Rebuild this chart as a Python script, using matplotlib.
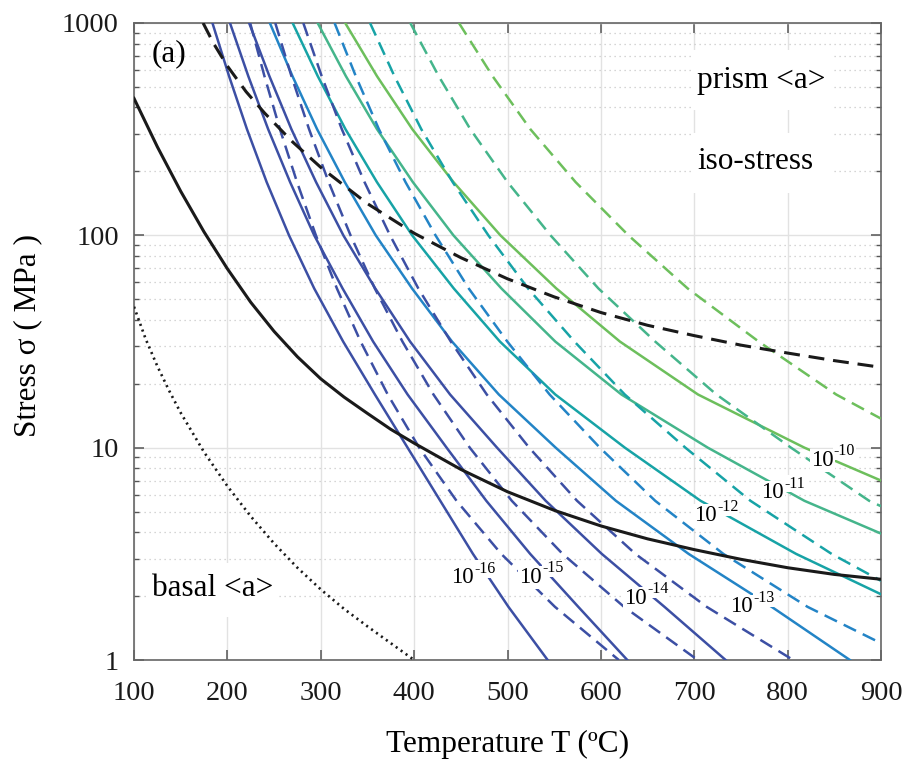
import matplotlib
matplotlib.use("Agg")
import matplotlib.pyplot as plt
from matplotlib.patches import Rectangle
from matplotlib.ticker import LogLocator, NullFormatter, FixedLocator, FixedFormatter

plt.rcParams['font.family'] = ['Liberation Serif', 'DejaVu Serif']

# ---- data -------------------------------------------------------------
# strain-rate exponents of the iso-strain-rate contours (s^-1)
rate_exponents = [-16, -15, -14, -13, -12, -11, -10]

# stress levels (MPa) at which the contour temperatures are tabulated
levels = [1000, 562, 316, 178, 100, 56.2, 31.6, 17.8, 10, 5.62, 3.16, 1.78, 1]

# solid contours: temperature (degC) at each stress level
solid_T = {
    -16: [184, 201.8, 221, 242.1, 266, 293, 324, 358, 393, 428, 463, 501, 543],
    -15: [202.8, 222.4, 243.7, 267.2, 293.0, 323.4, 356.1, 393.0, 434.8, 477.3, 524.3, 575.8, 628.3],
    -14: [223.3, 245.0, 268.6, 295.0, 324.2, 358.4, 395.7, 438.5, 488.8, 540.9, 601.0, 668.1, 733.6],
    -13: [245.5, 269.7, 296.1, 325.8, 358.9, 397.8, 440.6, 490.7, 551.6, 616.1, 694.0, 782.9, 866.7],
    -12: [269.9, 296.8, 326.5, 360.2, 397.9, 442.5, 491.9, 551.2, 625.7, 706.8, 809.1, 900],
    -11: [296.7, 326.9, 360.3, 398.7, 442.1, 493.5, 551.2, 622.0, 714.5, 818.0, 900],
    -10: [326.2, 360.2, 398.1, 442.2, 492.4, 552.3, 620.4, 704.0, 818.0, 900],
}
solid_S = {
    -16: levels,
    -15: levels,
    -14: levels,
    -13: levels,
    -12: [1000, 562, 316, 178, 100, 56.2, 31.6, 17.8, 10, 5.62, 3.16, 2.04],
    -11: [1000, 562, 316, 178, 100, 56.2, 31.6, 17.8, 10, 5.62, 3.94],
    -10: [1000, 562, 316, 178, 100, 56.2, 31.6, 17.8, 10, 7.0],
}

# dashed contours
dashed_T = {
    -16: [224.4, 239.7, 256.3, 274.6, 294.8, 317.3, 342.7, 371.7, 405.4, 445.4, 493.3, 550.8, 619.2],
    -15: [251.3, 268.6, 287.5, 308.5, 331.9, 357.9, 387.5, 420.7, 459.6, 504.6, 559.0, 624.8, 703.7],
    -14: [281.3, 301.0, 322.6, 346.9, 374.2, 404.5, 439.3, 477.8, 523.2, 574.5, 637.0, 713.3, 805.9],
    -13: [314.8, 337.5, 362.3, 390.8, 422.9, 458.5, 499.8, 545.1, 598.9, 658.2, 731.2, 821.3, 900],
    -12: [352.8, 378.9, 407.7, 441.3, 479.5, 522.0, 571.7, 625.6, 690.5, 760.2, 847.1, 900],
    -11: [395.9, 426.3, 460.2, 500.1, 546.1, 597.4, 658.2, 723.7, 803.6, 887.3, 900],
    -10: [448.0, 484.0, 524.5, 573.0, 629.5, 693.0, 769.0, 852.0, 900],
}
dashed_S = {
    -16: levels,
    -15: levels,
    -14: levels,
    -13: [1000, 562, 316, 178, 100, 56.2, 31.6, 17.8, 10, 5.62, 3.16, 1.78, 1.2],
    -12: [1000, 562, 316, 178, 100, 56.2, 31.6, 17.8, 10, 5.62, 3.16, 2.36],
    -11: [1000, 562, 316, 178, 100, 56.2, 31.6, 17.8, 10, 5.62, 5.3],
    -10: [1000, 562, 316, 178, 100, 56.2, 31.6, 17.8, 13.7],
}

# iso-stress curves
iso_solid_T = [100, 125, 150, 175, 200, 225, 250, 275, 300, 325, 350, 375, 400,
               450, 500, 550, 600, 650, 700, 750, 800, 850, 900]
iso_solid_S = [441.6, 261.2, 161.3, 103.8, 69.6, 48.4, 35.3, 26.8, 21.1, 17.3, 14.5, 12.2, 10.5,
               7.90, 6.20, 5.07, 4.28, 3.72, 3.31, 2.98, 2.72, 2.53, 2.40]

iso_dashed_T = [174, 185, 200, 220, 240, 270, 300, 350, 400, 450, 500, 550, 600,
                650, 700, 750, 800, 850, 900]
iso_dashed_S = [1000, 804, 627, 475, 376, 275, 209, 141, 102.3, 78.5, 62.4, 51.3, 43.3,
                37.7, 33.7, 30.4, 27.9, 25.7, 23.9]

basal_T = [100, 112.5, 125, 137.5, 150, 175, 200, 225, 250, 275, 300, 325, 350, 375, 400]
basal_S = [46.1, 32.5, 24.2, 18.6, 14.6, 9.53, 6.59, 4.75, 3.54, 2.72, 2.15, 1.74, 1.44, 1.20, 1.0]

rate_colors = {-16: '#3c4fa4', -15: '#3c4fa4', -14: '#3c4fa4', -13: '#2384c6',
               -12: '#17a3a6', -11: '#45b58b', -10: '#6dbf5c'}

# annotation anchor points (T, stress) for the strain-rate labels
label_pos = {-16: (464, 2.49), -15: (537, 2.51), -14: (649, 2.0), -13: (763, 1.82),
             -12: (724, 4.88), -11: (796, 6.3), -10: (849, 8.93)}

x_ticks = [100, 200, 300, 400, 500, 600, 700, 800, 900]
y_ticks = [1, 10, 100, 1000]
y_ticklabels = ['1', '10', '100', '1000']

# ---- figure -----------------------------------------------------------
fig = plt.figure(figsize=(9.09, 7.63), dpi=100)
ax = fig.add_axes([134 / 909, 1 - 660 / 763, 747 / 909, 637 / 763])
ax.set_yscale('log')

lw_c = 1.8
for e in rate_exponents:
    ax.plot(solid_T[e], solid_S[e], color=rate_colors[e], lw=lw_c,
            solid_joinstyle='round', zorder=3)
for e in rate_exponents:
    ax.plot(dashed_T[e], dashed_S[e], color=rate_colors[e], lw=lw_c,
            dashes=(5.5, 3.0), zorder=3)

ax.plot(iso_solid_T, iso_solid_S, color='#1a1a1a', lw=2.2,
        solid_joinstyle='round', zorder=4)
ax.plot(iso_dashed_T, iso_dashed_S, color='#1a1a1a', lw=2.2, dashes=(5.2, 2.9), zorder=4)
ax.plot(basal_T, basal_S, color='#1a1a1a', lw=1.9, dashes=(0.8, 1.5), zorder=4)

# strain-rate labels: "10" with a raised exponent, on a white ground
box = dict(boxstyle='square,pad=0.05', fc='white', ec='none')
for e in rate_exponents:
    t, s = label_pos[e]
    ax.annotate('10', xy=(t, s), xytext=(0, -1.5), textcoords='offset points',
                fontsize=16.5, ha='right', va='center', zorder=8, bbox=box)
    ax.annotate('%d' % e, xy=(t, s), xytext=(0.3, 4.8), textcoords='offset points',
                fontsize=11.5, ha='left', va='center', zorder=8, bbox=box)

# white panels behind the annotations
for (x0, y0, w, h) in [(0.7483, 0.8634, 0.1874, 0.0942),
                       (0.7483, 0.7331, 0.1874, 0.0942),
                       (0.0174, 0.0675, 0.1740, 0.0848)]:
    ax.add_patch(Rectangle((x0, y0), w, h, transform=ax.transAxes, fc='white',
                           ec='none', zorder=1))

ax.text(0.7537, 0.9105, 'prism <a>', transform=ax.transAxes, fontsize=22.5,
        ha='left', va='center', zorder=6)
ax.text(0.7537, 0.7818, 'iso-stress', transform=ax.transAxes, fontsize=22.5,
        ha='left', va='center', zorder=6)
ax.text(0.0241, 0.1115, 'basal <a>', transform=ax.transAxes, fontsize=22.5,
        ha='left', va='center', zorder=6)
ax.text(0.0241, 0.951, '(a)', transform=ax.transAxes, fontsize=22.5,
        ha='left', va='center', zorder=6)

ax.set_xlim(100, 900)
ax.set_ylim(1, 1000)
ax.set_xticks(x_ticks)
ax.yaxis.set_major_locator(FixedLocator(y_ticks))
ax.yaxis.set_major_formatter(FixedFormatter(y_ticklabels))
ax.yaxis.set_minor_locator(LogLocator(base=10, subs=range(2, 10)))
ax.yaxis.set_minor_formatter(NullFormatter())

ax.tick_params(which='both', direction='in', top=True, right=True,
               color='#555555', labelcolor='#1a1a1a', labelsize=20.5)
ax.tick_params(axis='x', pad=15)
ax.tick_params(axis='y', pad=11)
ax.tick_params(which='major', length=7, width=1.1)
ax.tick_params(which='minor', length=3.8, width=1.0)

ax.set_axisbelow(True)
ax.grid(which='major', color='#e2e2e2', lw=1.0)
ax.grid(which='minor', axis='y', color='#c8c8c8', lw=0.9, linestyle=(0, (1, 3)))

for sp in ax.spines.values():
    sp.set_color('#666666')
    sp.set_linewidth(1.2)

ax.set_xlabel('Temperature T (\u00baC)', fontsize=22.5, labelpad=17)
ax.set_ylabel('Stress \u03c3 ( MPa )', fontsize=22.5)
ax.yaxis.set_label_coords(-0.123, 0.51)

fig.savefig('out.png', dpi=100)
